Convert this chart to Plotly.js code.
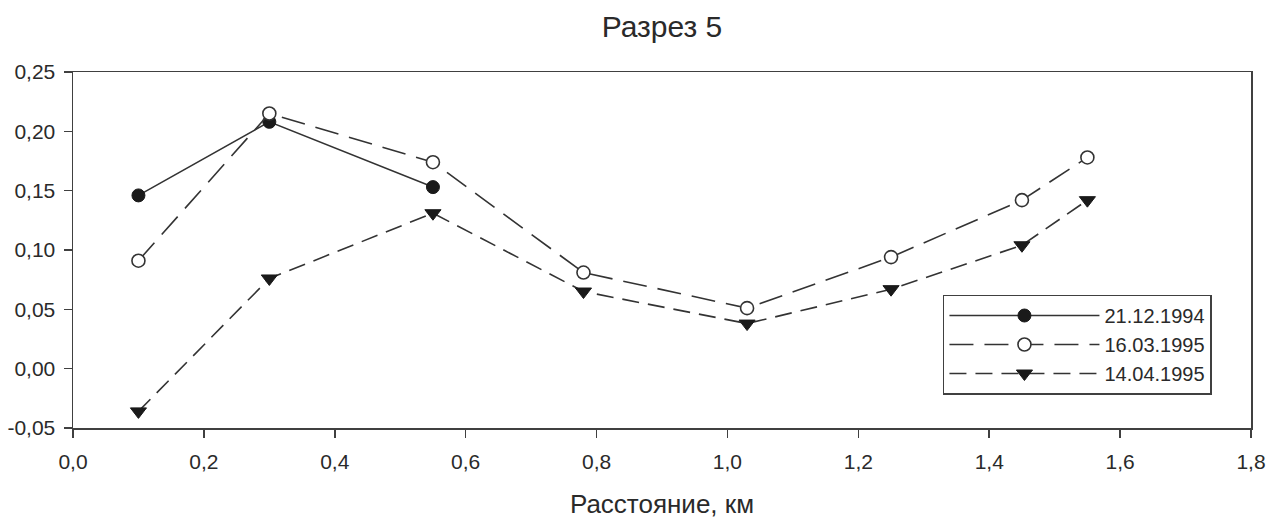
<!DOCTYPE html>
<html>
<head>
<meta charset="utf-8">
<script src="https://cdn.plot.ly/plotly-3.0.1.min.js"></script>
<style>html,body{margin:0;padding:0;background:#fff;}#chart{width:1278px;height:521px;}</style>
</head>
<body>
<div id="chart"></div>
<script>
const seriesNames = ["21.12.1994", "16.03.1995", "14.04.1995"];
const x1 = [0.10, 0.30, 0.55];
const y1 = [0.146, 0.208, 0.153];
const x2 = [0.10, 0.30, 0.55, 0.78, 1.03, 1.25, 1.45, 1.55];
const y2 = [0.091, 0.215, 0.174, 0.081, 0.051, 0.094, 0.142, 0.178];
const x3 = [0.10, 0.30, 0.55, 0.78, 1.03, 1.25, 1.45, 1.55];
const y3 = [-0.036, 0.076, 0.131, 0.065, 0.038, 0.067, 0.104, 0.142];
const titleText = "Разрез 5";
const xTitle = "Расстояние, км";
const yTicks = [-0.05, 0.00, 0.05, 0.10, 0.15, 0.20, 0.25];
const yTickLabels = ["-0,05", "0,00", "0,05", "0,10", "0,15", "0,20", "0,25"];
const xTicks = [0.0, 0.2, 0.4, 0.6, 0.8, 1.0, 1.2, 1.4, 1.6, 1.8];
const xTickLabels = ["0,0", "0,2", "0,4", "0,6", "0,8", "1,0", "1,2", "1,4", "1,6", "1,8"];

const lineCol = "#333333";
const traces = [
  {x: x1, y: y1, name: seriesNames[0], mode: "lines+markers", type: "scatter",
   line: {color: lineCol, width: 1.6, dash: "solid"},
   marker: {symbol: "circle", size: 13, color: "#1a1a1a", line: {color: "#1a1a1a", width: 1}}},
  {x: x2, y: y2, name: seriesNames[1], mode: "lines+markers", type: "scatter",
   line: {color: lineCol, width: 1.6, dash: "24px,11px"},
   marker: {symbol: "circle", size: 13, color: "#ffffff", line: {color: "#333333", width: 1.6}}},
  {x: x3, y: y3, name: seriesNames[2], mode: "lines+markers", type: "scatter",
   line: {color: lineCol, width: 1.6, dash: "17px,9px"},
   marker: {symbol: "triangle-down", size: 14, color: "#1a1a1a", line: {color: "#1a1a1a", width: 1}}}
];

const fam = "Liberation Sans, Arial, sans-serif";
const axisFont = {family: fam, size: 21, color: "#2a2a2a"};
const layout = {
  width: 1278, height: 521,
  margin: {l: 73, r: 27, t: 72, b: 93},
  paper_bgcolor: "#ffffff", plot_bgcolor: "#ffffff",
  separators: ", ",
  showlegend: true,
  title: {text: titleText, xref: "paper", x: 0.5, xanchor: "center", yref: "container", y: 0.95, yanchor: "middle",
          font: {family: fam, size: 30, color: "#2a2a2a"}},
  xaxis: {
    range: [0, 1.8], tickmode: "array", tickvals: xTicks, ticktext: xTickLabels,
    showgrid: false, zeroline: false,
    showline: true, linecolor: "#404040", linewidth: 1.5, mirror: true,
    ticks: "outside", ticklen: 8, tickwidth: 1.5, tickcolor: "#404040",
    tickfont: axisFont, ticklabelstandoff: 6,
    title: {text: xTitle, font: {family: fam, size: 26, color: "#2a2a2a"}, standoff: 23}
  },
  yaxis: {
    range: [-0.05, 0.25], tickmode: "array", tickvals: yTicks, ticktext: yTickLabels,
    showgrid: false, zeroline: false,
    showline: true, linecolor: "#404040", linewidth: 1.5, mirror: true,
    ticks: "outside", ticklen: 8, tickwidth: 1.5, tickcolor: "#404040",
    tickfont: axisFont, ticklabelstandoff: 4
  },
  legend: {
    x: 0.7385, y: 0.375, xanchor: "left", yanchor: "top",
    bordercolor: "#404040", borderwidth: 1.5, bgcolor: "#ffffff",
    font: {family: fam, size: 20, color: "#2a2a2a"},
    itemwidth: 150, tracegroupgap: 0
  }
};
Plotly.newPlot("chart", traces, layout, {displayModeBar: false, staticPlot: true});
</script>
</body>
</html>
